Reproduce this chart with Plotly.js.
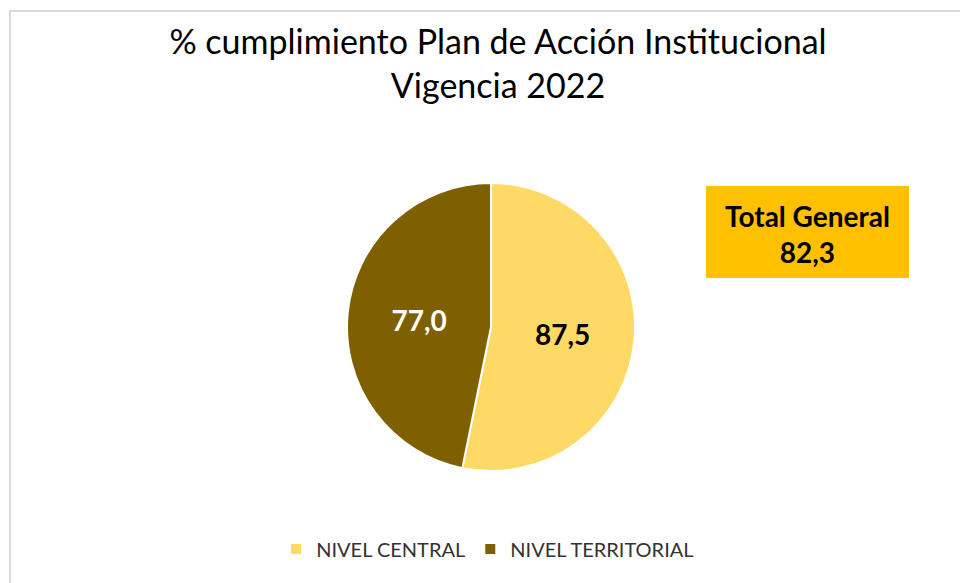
<!DOCTYPE html>
<html>
<head>
<meta charset="utf-8">
<script src="https://cdn.plot.ly/plotly-3.0.1.min.js"></script>
<style>html,body{margin:0;padding:0;background:#fff;}#chart{width:960px;height:583px;}</style>
</head>
<body>
<div id="chart"></div>
<script>
const categories = ["NIVEL CENTRAL", "NIVEL TERRITORIAL"];
const values = [87.5, 77.0];
const sliceColors = ["#FFD966", "#7F6000"];
const labelColors = ["#000000", "#FFFFFF"];
const totalLabel = "Total General";
const totalValue = 82.3;
const titleLines = ["% cumplimiento Plan de Acción Institucional", "Vigencia 2022"];

const W = 960, H = 583;
const cx = 491, cy = 327, r = 144;
const FONT = "Lato, 'Open Sans', sans-serif";

const trace = {
  type: "pie",
  labels: categories,
  values: values,
  sort: false,
  direction: "clockwise",
  rotation: 0,
  marker: {colors: sliceColors, line: {color: "#FFFFFF", width: 2}},
  texttemplate: "%{value:.1f}",
  textposition: "inside",
  insidetextorientation: "horizontal",
  textfont: {family: FONT, size: 28, color: labelColors, weight: "bold"},
  hoverinfo: "label+value",
  domain: {x: [(cx - r) / W, (cx + r) / W], y: [(H - cy - r) / H, (H - cy + r) / H]}
};

const layout = {
  width: W, height: H,
  margin: {l: 0, r: 0, t: 0, b: 0},
  paper_bgcolor: "#FFFFFF",
  separators: ",.",
  font: {family: FONT, color: "#000"},
  title: {
    text: titleLines.join("<br>"),
    font: {family: FONT, size: 34, color: "#000"},
    x: 498 / W, xanchor: "center",
    y: 1 - 54 / H, yanchor: "middle", yref: "container"
  },
  showlegend: true,
  legend: {
    orientation: "h",
    x: 0.508, xanchor: "center",
    y: (H - 549) / H, yanchor: "middle",
    font: {family: FONT, size: 20, color: "#333333"},
    itemwidth: 30,
    traceorder: "normal"
  },
  shapes: [
    {type: "rect", xref: "paper", yref: "paper",
     x0: 10 / W, x1: 1.02, y0: -0.02, y1: (H - 11) / H,
     line: {color: "#D9D9D9", width: 2}, fillcolor: "rgba(0,0,0,0)", layer: "below"},
    {type: "rect", xref: "paper", yref: "paper",
     x0: 706 / W, x1: 909 / W, y0: (H - 278) / H, y1: (H - 186) / H,
     line: {width: 0}, fillcolor: "#FFC000", layer: "below"}
  ],
  annotations: [
    {xref: "paper", yref: "paper", x: 807 / W, y: (H - 234) / H,
     xanchor: "center", yanchor: "middle", showarrow: false,
     text: "<b>" + totalLabel + "<br>" + totalValue.toFixed(1).replace(".", ",") + "</b>",
     font: {family: FONT, size: 28, color: "#000"}}
  ]
};

Plotly.newPlot("chart", [trace], layout, {displayModeBar: false, staticPlot: true});
</script>
</body>
</html>
